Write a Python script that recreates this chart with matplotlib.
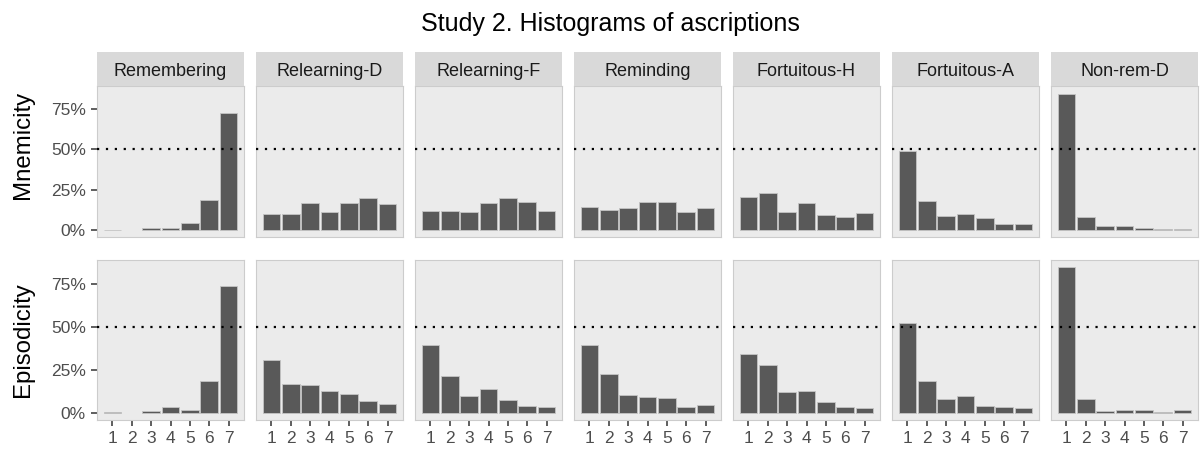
import numpy as np
import matplotlib
matplotlib.use("Agg")
import matplotlib.pyplot as plt
from matplotlib.ticker import FuncFormatter

plt.rcParams['font.family'] = ['Liberation Sans', 'DejaVu Sans']

scenarios = ['Remembering', 'Relearning-D', 'Relearning-F', 'Reminding',
             'Fortuitous-H', 'Fortuitous-A', 'Non-rem-D']
levels = [1, 2, 3, 4, 5, 6, 7]
row_names = ['Mnemicity', 'Episodicity']

# percent of answers per rating level (1..7)
mnemicity = [
    [0.3, 0.0, 1.6, 1.6, 4.5, 18.8, 72.5],
    [9.8, 9.8, 17.0, 11.0, 17.0, 19.6, 16.4],
    [11.9, 11.9, 11.2, 16.6, 19.6, 17.2, 11.9],
    [14.5, 12.5, 13.7, 17.2, 17.2, 11.0, 13.9],
    [20.7, 23.3, 11.4, 16.8, 9.6, 8.0, 10.6],
    [49.0, 18.2, 8.6, 10.2, 7.4, 3.7, 3.7],
    [84.4, 8.4, 2.5, 2.5, 1.6, 0.4, 0.4],
]
episodicity = [
    [0.4, 0.0, 1.2, 3.1, 1.8, 18.6, 74.2],
    [30.9, 16.8, 16.0, 12.5, 10.7, 7.0, 4.9],
    [39.3, 21.5, 9.6, 13.9, 7.6, 3.7, 3.1],
    [39.8, 22.7, 10.4, 9.4, 8.8, 3.1, 4.7],
    [34.6, 27.9, 11.9, 12.7, 6.1, 3.3, 2.5],
    [52.3, 18.6, 7.8, 10.0, 4.1, 3.5, 2.5],
    [85.0, 7.8, 1.2, 1.8, 1.8, 0.6, 1.8],
]
yticks = [0, 25, 50, 75]

W, H = 1203, 450
fig = plt.figure(figsize=(W / 100, H / 100), dpi=100)


def box(x0, y0, x1, y1):
    # pixel box (top-left origin) -> figure fraction rect
    return [x0 / W, 1 - y1 / H, (x1 - x0) / W, (y1 - y0) / H]


row_spans = [(86, 237), (260, 420)]
label_y = [144.5, 340]
pct = FuncFormatter(lambda v, p: f'{v:.0f}%')

for r, data in enumerate([mnemicity, episodicity]):
    y0, y1 = row_spans[r]
    for c, name in enumerate(scenarios):
        x0 = 97 + 159 * c
        x1 = x0 + 147
        ax = fig.add_axes(box(x0, y0, x1, y1))
        ax.set_facecolor('#EBEBEB')
        # empty levels get no bar at all
        xs = [l for l, v in zip(levels, data[c]) if v > 0]
        vs = [v for v in data[c] if v > 0]
        ax.bar(xs, vs, width=0.9, color='#595959',
               edgecolor='#C4C4C4', linewidth=0.6, zorder=2)
        ax.axhline(50, color='black', linestyle=(0, (1, 3)), linewidth=1.6, zorder=3)
        ax.set_xlim(0.2, 7.8)
        ax.set_ylim(-4.25, 89.25)
        for s in ax.spines.values():
            s.set_color('#CCCCCC')
            s.set_linewidth(0.8)
        ax.set_xticks(levels)
        ax.set_yticks(yticks)
        ax.yaxis.set_major_formatter(pct)
        ax.tick_params(colors='#333333', labelcolor='#4D4D4D', labelsize=12.5,
                       length=4, width=1.1, pad=4)
        if c > 0:
            ax.tick_params(axis='y', left=False, labelleft=False)
        if r == 0:
            ax.tick_params(axis='x', bottom=False, labelbottom=False)
            sax = fig.add_axes(box(x0, 52, x1, 86))
            sax.set_facecolor('#D9D9D9')
            sax.set_xticks([])
            sax.set_yticks([])
            for s in sax.spines.values():
                s.set_visible(False)
            sax.text((x0 + x1) / 2 / W, 1 - 75.5 / H, name, ha='center',
                     va='baseline', fontsize=13, color='#1A1A1A',
                     transform=fig.transFigure)
    fig.text(23 / W, 1 - label_y[r] / H, row_names[r], rotation=90,
             ha='center', va='center', fontsize=17.3)

fig.text(610 / W, 1 - 31 / H, 'Study 2. Histograms of ascriptions',
         ha='center', va='baseline', fontsize=18)

fig.savefig('out.png', dpi=100)
